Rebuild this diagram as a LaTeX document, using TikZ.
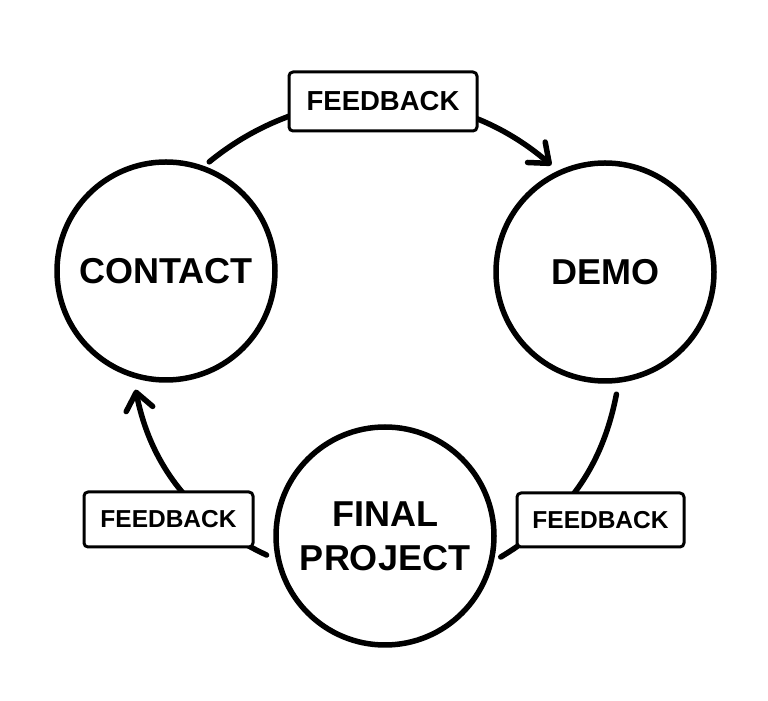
\documentclass[tikz,border=0pt]{standalone}
\usepackage{fontspec}
\setmainfont{Liberation Sans}
\usetikzlibrary{arrows.meta}
\tikzset{
	stage/.style={circle, draw, line width=5.5pt, minimum size=218pt, inner sep=0pt, align=center,
		font=\bfseries\fontsize{36}{44}\selectfont},
	fbbox/.style={draw, fill=white, line width=3pt, rounded corners=4pt, inner sep=0pt,
		minimum width=167pt, minimum height=54pt, font=\bfseries\fontsize{24.5}{28}\selectfont},
	loop/.style={line width=5.5pt},
}
\begin{document}
\begin{tikzpicture}[x=1pt,y=1pt,>={Straight Barb[round,length=17pt,width=27pt]}, line join=round, line cap=round]
	\useasboundingbox (0,0) rectangle (768,701);
	% Ba giai doan
	\node[stage] (contact) at (166,430) {CONTACT};
	\node[stage] (demo) at (605,429) {DEMO};
	\node[stage] (final) at (385,165) {FINAL\\PROJECT};
	% Vong lap
	\draw[loop,->,shorten <=6.5pt,shorten >=8.5pt] (contact.70) to[bend left=40] (demo.115);
	\draw[loop,shorten <=11.5pt,shorten >=8pt] (demo.277) to[bend left=24] (final.347);
	\draw[loop,->,shorten <=10pt,shorten >=12pt] (final.192) to[bend left=27] (contact.253);
	% Nhan
	\node[fbbox,minimum width=188pt,minimum height=59pt,font=\bfseries\fontsize{27.5}{30}\selectfont] (fbtop) at (383,599.5) {FEEDBACK};
	\node[fbbox,minimum width=169pt,minimum height=55pt] (fbleft) at (168.5,181.5) {FEEDBACK};
	\node[fbbox] (fbright) at (600.5,181) {FEEDBACK};
\end{tikzpicture}
\end{document}
